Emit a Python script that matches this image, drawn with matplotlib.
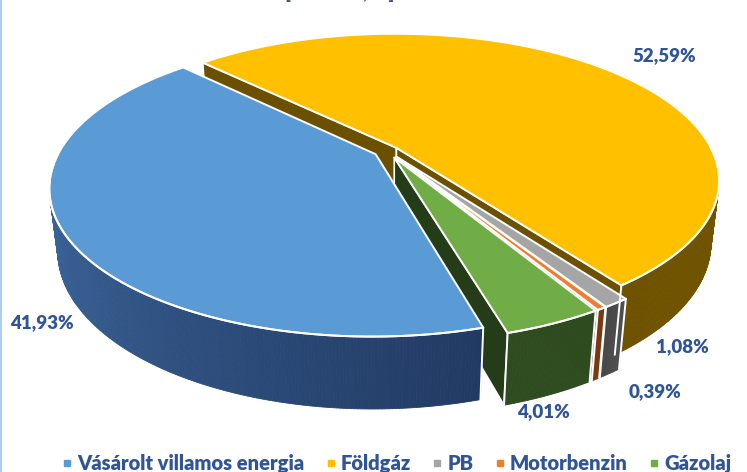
import numpy as np
import matplotlib
matplotlib.use("Agg")
import matplotlib.pyplot as plt
from matplotlib.patches import Polygon
from matplotlib.lines import Line2D
from matplotlib.colors import to_rgb

plt.rcParams['font.family'] = ['Lato', 'DejaVu Sans']

# data (legend order)
names = ['Vásárolt villamos energia', 'Földgáz', 'PB', 'Motorbenzin', 'Gázolaj']
shares = [41.93, 52.59, 1.08, 0.39, 4.01]
pct_labels = ['41,93%', '52,59%', '1,08%', '0,39%', '4,01%']
top_colors = ['#5B9BD5', '#FFC000', '#A5A5A5', '#ED7D31', '#70AD47']
side_colors = [('#4E82C0', '#213A63'), ('#6E5200', '#806100'), ('#474747', '#505050'),
               ('#7A3810', '#7A3810'), ('#2E4C1F', '#2E4C1F')]
face_colors = ['#1F3864', '#6B5000', '#383838', '#6A300E', '#243C18']
explode = [0.045, 0.035, 0.05, 0.05, 0.05]
label_pos = [(42, 323), (664, 56), (682, 347), (655, 392), (543, 412)]

# drawing order clockwise from start angle: Földgáz first
order = [1, 2, 3, 4, 0]
start = 135.0

# view / projection
cx, cy, S = 388.0, 151.0, 316.0
alpha = np.radians(26.4)
D = 4.06
H = 0.22
ca, sa = np.cos(alpha), np.sin(alpha)
cam = np.array([0.0, -D * ca, D * sa])


def proj(u, v, h):
    d = v * ca - h * sa
    p = 1.0 / (1.0 + d / D)
    yp = v * sa + h * ca
    return cx + S * u * p, cy - S * yp * p


def mix(c1, c2, t):
    a, b = np.array(to_rgb(c1)), np.array(to_rgb(c2))
    return tuple(a + (b - a) * t)


fig = plt.figure(figsize=(7.47, 4.72), dpi=100)
ax = fig.add_axes([0, 0, 1, 1])
ax.set_xlim(0, 747)
ax.set_ylim(472, 0)
ax.axis('off')

# slices: angles CCW a -> b
total = sum(shares)
slices = []
ang = start
for i in order:
    span = 360.0 * shares[i] / total
    b = ang
    a = ang - span
    slices.append((i, a, b))
    ang = a

faces, rims, tops, edges = [], [], [], []
for i, a, b in slices:
    mid = np.radians((a + b) / 2)
    ou, ov = explode[i] * np.cos(mid), explode[i] * np.sin(mid)
    th = np.radians(np.linspace(a, b, max(int((b - a) * 2), 4)))
    us, vs = ou + np.cos(th), ov + np.sin(th)

    # top face
    pts = [proj(ou, ov, 0)] + [proj(u, v, 0) for u, v in zip(us, vs)]
    tops.append((ov, pts, top_colors[i]))

    # radial faces
    for edge_ang, nrm in ((a, a - 90), (b, b + 90)):
        e = np.radians(edge_ang)
        n = np.radians(nrm)
        if (0 - ou) * np.cos(n) + (cam[1] - ov) * np.sin(n) <= 0:
            continue
        eu, ev = ou + np.cos(e), ov + np.sin(e)
        poly = [proj(ou, ov, 0), proj(eu, ev, 0), proj(eu, ev, -H), proj(ou, ov, -H)]
        faces.append(((ov + ev) / 2, poly, face_colors[i]))

    # outer rim (front half)
    c1, c2 = side_colors[i]
    tl = np.sin(th) <= 0.0
    for k in range(len(th) - 1):
        if not (tl[k] and tl[k + 1]):
            continue
        t = (k + 0.5) / (len(th) - 1)
        quad = [proj(us[k], vs[k], 0), proj(us[k + 1], vs[k + 1], 0),
                proj(us[k + 1], vs[k + 1], -H), proj(us[k], vs[k], -H)]
        rims.append(((vs[k] + vs[k + 1]) / 2, quad, mix(c1, c2, t)))
    if tl.any():
        idx = np.where(tl)[0]
        seg = [proj(us[k], vs[k], 0) for k in idx]
        edges.append(seg)
        for k in (0, len(th) - 1):
            if tl[k]:
                edges.append([proj(us[k], vs[k], 0), proj(us[k], vs[k], -H)])

for _, poly, c in sorted(faces, key=lambda f: -f[0]):
    ax.add_patch(Polygon(poly, closed=True, fc=c, ec='white', lw=1.2, joinstyle='round'))
for _, poly, c in sorted(rims, key=lambda f: -f[0]):
    ax.add_patch(Polygon(poly, closed=True, fc=c, ec=c, lw=0.6))
for seg in edges:
    xs, ys = zip(*seg)
    ax.plot(xs, ys, color='white', lw=1.4, solid_capstyle='round')
for _, poly, c in sorted(tops, key=lambda f: -f[0]):
    ax.add_patch(Polygon(poly, closed=True, fc=c, ec='white', lw=1.4, joinstyle='round'))

txt_color = '#2F5597'
for i in range(len(names)):
    x, y = label_pos[i]
    ax.text(x, y, pct_labels[i], color=txt_color, fontsize=13.5, fontweight='heavy',
            ha='center', va='center')

# title (mostly cut off at the top)
ax.text(340, -1, '[kWh/év, %]', color=txt_color, fontsize=14, fontweight='bold',
        ha='center', va='baseline', clip_on=False)

# chart border on the left
ax.plot([1, 1], [0, 472], color='#9DC3E6', lw=1.2)

handles = [Line2D([], [], marker='s', linestyle='', color=c, markersize=5) for c in top_colors]
fig.legend(handles, names, loc='lower center', bbox_to_anchor=(0.531, -0.04), ncol=5,
           frameon=False, handlelength=0.5, handletextpad=0.25, columnspacing=1.05,
           prop={'weight': 'heavy', 'size': 14.5}, labelcolor=txt_color)

fig.savefig('out.png', dpi=100)
